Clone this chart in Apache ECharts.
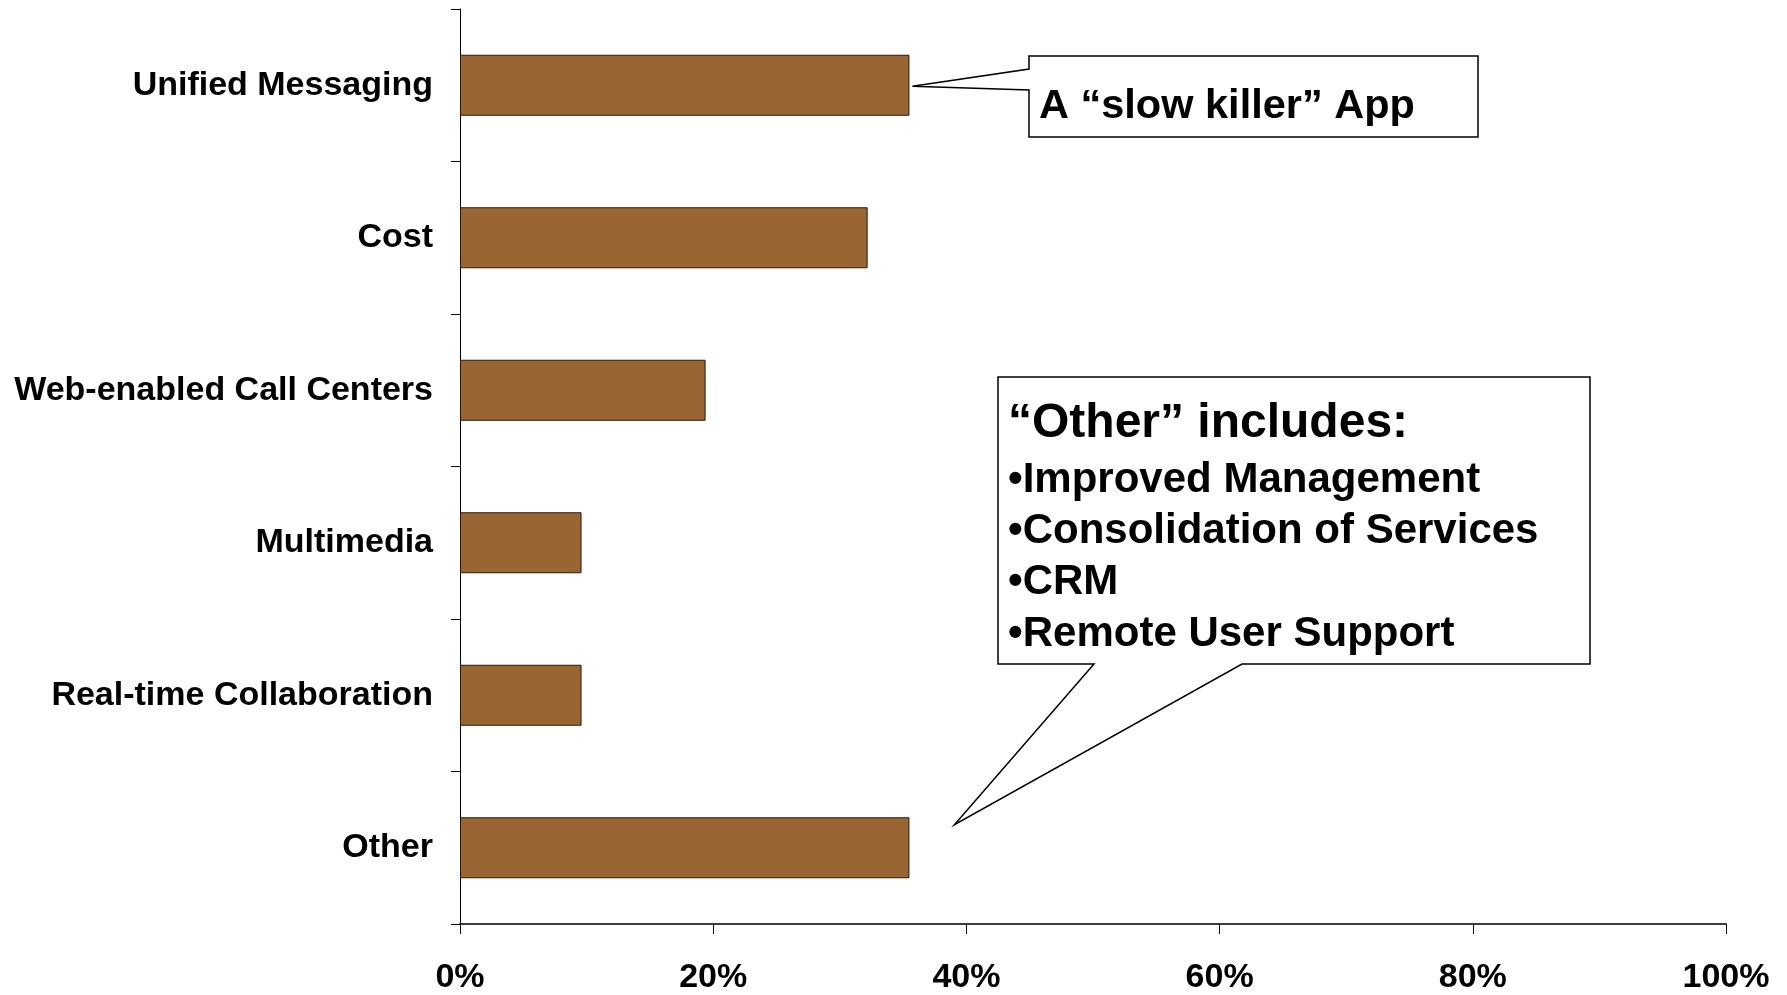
<!DOCTYPE html>
<html>
<head>
<meta charset="utf-8">
<script src="https://cdn.jsdelivr.net/npm/echarts@6/dist/echarts.min.js"></script>
<style>
	html, body { margin: 0; padding: 0; background: #fff; }
	#chart { width: 1787px; height: 995px; }
</style>
</head>
<body>
<div id="chart"></div>
<script>
const categories = ['Unified Messaging', 'Cost', 'Web-enabled Call Centers', 'Multimedia', 'Real-time Collaboration', 'Other']
const shares = [0.355, 0.322, 0.194, 0.096, 0.096, 0.355]
const tickLabels = ['0%', '20%', '40%', '60%', '80%', '100%']
const killerNote = 'A \u201cslow killer\u201d App'
const otherNotes = ['\u201cOther\u201d includes:', '\u2022Improved Management', '\u2022Consolidation of Services', '\u2022CRM', '\u2022Remote User Support']

const FONT = '"Liberation Sans", Arial, sans-serif'

const chartDom = document.getElementById('chart')
const myChart = echarts.init(chartDom)

const options = {
	animation: false,
	backgroundColor: '#fff',
	grid: {
		left: 460,
		right: 61,
		top: 9,
		bottom: 67
	},
	xAxis: {
		type: 'value',
		min: 0,
		max: 1,
		interval: 0.2,
		axisLine: {
			show: true,
			lineStyle: { color: '#000', width: 1.5 }
		},
		axisTick: {
			show: true,
			length: 10,
			lineStyle: { color: '#000' }
		},
		axisLabel: {
			margin: 37,
			color: '#000',
			fontSize: 34,
			fontWeight: 'bold',
			fontFamily: FONT,
			formatter: (v) => tickLabels[Math.round(v * 5)]
		},
		splitLine: { show: false }
	},
	yAxis: {
		type: 'category',
		inverse: true,
		data: categories,
		axisLine: {
			show: true,
			lineStyle: { color: '#000', width: 1 }
		},
		axisTick: {
			show: true,
			length: 9,
			lineStyle: { color: '#000' }
		},
		axisLabel: {
			margin: 27,
			color: '#000',
			fontSize: 34,
			fontWeight: 'bold',
			fontFamily: FONT,
			padding: [7, 0, 0, 0]
		}
	},
	series: [
		{
			type: 'bar',
			data: shares,
			barWidth: '40%',
			itemStyle: {
				color: '#996633',
				borderColor: '#2b1a0a',
				borderWidth: 1
			}
		}
	]
}

myChart.setOption(options)

// callout tips follow the bar ends
const tip1 = myChart.convertToPixel({ gridIndex: 0 }, [shares[0], categories[0]])
const tip2 = myChart.convertToPixel({ gridIndex: 0 }, [shares[5], categories[5]])
const t1 = [tip1[0] + 3, tip1[1] + 1]
const t2 = [tip2[0] + 45, tip2[1] - 23]

const lineStyle = { fill: '#fff', stroke: '#000', lineWidth: 1.5 }
const textFont = (size) => 'bold ' + size + 'px ' + FONT

const graphics = [
	{
		type: 'polygon',
		shape: {
			points: [[1029, 56], [1478, 56], [1478, 137], [1029, 137], [1029, 90], t1, [1029, 69]]
		},
		style: lineStyle,
		z: 10
	},
	{
		type: 'text',
		style: {
			text: killerNote,
			x: 1039,
			y: 107,
			font: textFont(41.5),
			fill: '#000',
			textAlign: 'left',
			textVerticalAlign: 'middle'
		},
		z: 11
	},
	{
		type: 'polygon',
		shape: {
			points: [[998, 377], [1590, 377], [1590, 664], [1242, 664], t2, [1094, 664], [998, 664]]
		},
		style: lineStyle,
		z: 10
	}
]

const noteY = [424, 480, 531, 582, 634]
otherNotes.forEach((txt, i) => {
	graphics.push({
		type: 'text',
		style: {
			text: txt,
			x: 1008,
			y: noteY[i],
			font: textFont(i === 0 ? 48 : 42),
			fill: '#000',
			textAlign: 'left',
			textVerticalAlign: 'middle'
		},
		z: 11
	})
})

myChart.setOption({ graphic: graphics })
</script>
</body>
</html>
